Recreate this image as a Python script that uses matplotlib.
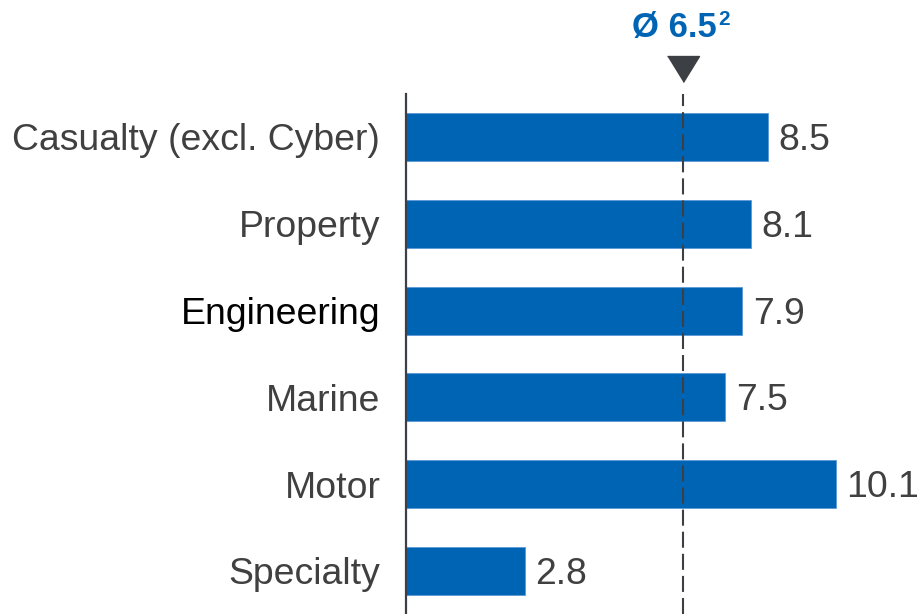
import matplotlib
matplotlib.use("Agg")
import matplotlib.pyplot as plt

categories = ["Casualty (excl. Cyber)", "Property", "Engineering", "Marine", "Motor", "Specialty"]
values = [8.5, 8.1, 7.9, 7.5, 10.1, 2.8]
average = 6.5
average_label = "Ø 6.5"
average_note = "2"

BLUE = "#0064b4"
GREY = "#3c4044"
TEXT = "#404040"

plt.rcParams["font.family"] = ["Liberation Sans", "DejaVu Sans"]

W, H, DPI = 919, 614, 100
fig = plt.figure(figsize=(W / DPI, H / DPI), dpi=DPI)

# axes: value 0 sits on the left spine, rows are evenly spaced downward
left_px, top_px = 406, 94
ax = fig.add_axes([left_px / W, 0, (W - left_px) / W, (H - top_px) / H])
px_per_unit = 42.57
ax.set_xlim(0, (W - left_px) / px_per_unit)
row_px = 86.8
first_px = 137
ax.set_ylim((H - first_px) / row_px, (top_px - first_px) / row_px)

ypos = list(range(len(categories)))
ax.barh(ypos, values, height=0.555, color=BLUE, edgecolor="#5a9ad6",
        linewidth=0.6, zorder=2)

for y, v in zip(ypos, values):
    ax.annotate(f"{v:.1f}", xy=(v, y), xytext=(7.5, -2.5), textcoords="offset points",
                ha="left", va="center", fontsize=26.9, color=TEXT)

ax.set_yticks(ypos)
ax.set_yticklabels(categories, fontsize=26.9)
for lbl, cat in zip(ax.get_yticklabels(), categories):
    lbl.set_color("#000000" if cat == "Engineering" else TEXT)
ax.tick_params(axis="y", length=0, pad=18.5)
ax.set_xticks([])

for side in ("top", "right", "bottom"):
    ax.spines[side].set_visible(False)
ax.spines["left"].set_color(GREY)
ax.spines["left"].set_linewidth(1.6)

# average marker: dashed reference line, triangle and label above
ax.axvline(average, color=GREY, linewidth=1.5, linestyle=(0, (7.7, 2.9)), zorder=3)
tri = [(-1, 0.8125), (1, 0.8125), (0, -0.8125)]
ax.plot([average], [(69 - first_px) / row_px], marker=tri, markersize=23,
        color=GREY, clip_on=False, linestyle="none")
ax.annotate(average_label, xy=(average, H - 37), xycoords=("data", "figure pixels"),
            xytext=(24.5, 0), textcoords="offset points", ha="right", va="baseline",
            fontsize=25, fontweight="bold", color=BLUE, annotation_clip=False)
ax.annotate(average_note, xy=(average, H - 10), xycoords=("data", "figure pixels"),
            xytext=(25.5, 0), textcoords="offset points", ha="left", va="top",
            fontsize=15, fontweight="bold", color=BLUE, annotation_clip=False)

fig.savefig("out.png", dpi=DPI)
